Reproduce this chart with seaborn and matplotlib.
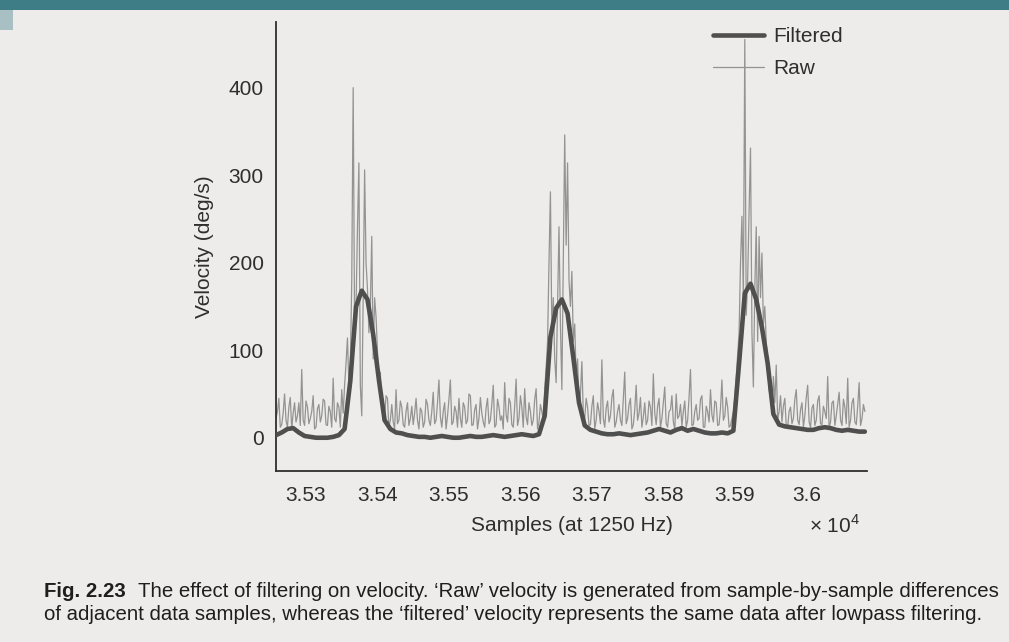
import numpy as np
import pandas as pd
import matplotlib
matplotlib.use("Agg")
import matplotlib.pyplot as plt
import seaborn as sns
from matplotlib.patches import Rectangle

# ---------------- data ----------------
raw_start = 35258          # first sample index
raw_step = 2               # samples between stored raw points
raw_velocity = [
    22, 30, 45, 12, 15, 28, 50, 20, 12, 35,
    46, 10, 28, 40, 18, 25, 40, 14, 78, 20,
    14, 42, 35, 16, 22, 30, 48, 10, 12, 33,
    38, 18, 25, 44, 42, 15, 14, 36, 30, 12,
    68, 22, 18, 40, 35, 12, 55, 28, 60, 85,
    114, 60, 80, 180, 400, 120, 150, 240, 314, 60,
    25, 160, 306, 200, 170, 120, 150, 230, 90, 160,
    138, 100, 60, 75, 40, 20, 25, 48, 45, 12,
    20, 38, 18, 10, 55, 16, 20, 42, 35, 15,
    12, 30, 40, 14, 22, 36, 15, 28, 45, 20,
    10, 34, 30, 12, 18, 44, 38, 20, 14, 30,
    52, 16, 20, 40, 66, 24, 12, 30, 40, 10,
    25, 44, 66, 15, 18, 36, 30, 12, 45, 22,
    12, 40, 35, 16, 20, 50, 48, 14, 15, 32,
    38, 10, 22, 46, 28, 18, 12, 34, 45, 16,
    20, 38, 60, 12, 15, 44, 35, 20, 25, 10,
    63, 26, 18, 45, 40, 15, 12, 36, 67, 14,
    22, 48, 35, 12, 56, 24, 15, 40, 30, 14,
    20, 44, 56, 10, 18, 38, 30, 20, 55, 80,
    110, 200, 281, 120, 160, 90, 63, 150, 241, 130,
    55, 200, 346, 220, 314, 180, 150, 190, 110, 130,
    70, 90, 35, 50, 87, 28, 22, 45, 35, 14,
    15, 36, 48, 10, 20, 40, 30, 16, 89, 22,
    12, 34, 42, 18, 25, 46, 55, 12, 18, 30,
    38, 20, 14, 44, 75, 16, 22, 38, 45, 10,
    15, 32, 60, 20, 28, 46, 12, 24, 40, 15,
    20, 42, 35, 14, 73, 28, 15, 36, 45, 12,
    22, 40, 58, 16, 12, 30, 32, 48, 18, 10,
    50, 22, 25, 38, 14, 30, 42, 12, 20, 46,
    78, 14, 15, 30, 38, 20, 22, 44, 48, 12,
    12, 36, 30, 18, 55, 26, 18, 42, 40, 14,
    15, 34, 66, 20, 25, 46, 35, 12, 14, 22,
    30, 45, 70, 95, 120, 200, 253, 160, 455, 140,
    180, 260, 331, 120, 58, 170, 241, 110, 230, 160,
    211, 130, 150, 110, 90, 55, 45, 30, 70, 40,
    83, 20, 30, 48, 18, 36, 45, 14, 12, 30,
    35, 16, 22, 44, 55, 20, 15, 32, 40, 12,
    25, 46, 60, 18, 12, 34, 38, 14, 20, 42,
    48, 16, 15, 36, 30, 22, 70, 12, 18, 40,
    42, 14, 25, 38, 52, 20, 14, 44, 35, 16,
    68, 12, 20, 40, 45, 18, 15, 36, 63, 14,
    22, 38, 30,
]

filt_start = 35258
filt_step = 8
filtered_velocity = [
    3, 6, 10, 11, 6, 2, 1, 0, 0, 0,
    1, 3, 10, 65, 150, 168, 158, 118, 66, 20,
    10, 6, 5, 3, 2, 1, 1, 0, 1, 2,
    1, 0, 0, 1, 2, 1, 1, 2, 3, 2,
    1, 2, 3, 4, 3, 2, 4, 25, 115, 148,
    158, 142, 92, 40, 14, 9, 7, 5, 4, 4,
    5, 4, 3, 4, 5, 6, 8, 10, 8, 6,
    9, 11, 8, 10, 8, 6, 5, 5, 6, 5,
    8, 85, 165, 176, 158, 126, 85, 27, 15, 13,
    12, 11, 10, 9, 9, 11, 12, 11, 9, 8,
    9, 8, 7, 7,
]

x_ticks = [35300, 35400, 35500, 35600, 35700, 35800, 35900, 36000]
x_tick_labels = ["3.53", "3.54", "3.55", "3.56", "3.57", "3.58", "3.59", "3.6"]
y_ticks = [0, 100, 200, 300, 400]
y_tick_labels = ["0", "100", "200", "300", "400"]
series_names = ["Filtered", "Raw"]
x_label = "Samples (at 1250 Hz)"
y_label = "Velocity (deg/s)"
x_multiplier = "\u00d7 10$^{\\mathregular{4}}$"
caption_bold = "Fig. 2.23"
caption_line1 = ("The effect of filtering on velocity. \u2018Raw\u2019 velocity is generated "
                 "from sample-by-sample differences")
caption_line2 = ("of adjacent data samples, whereas the \u2018filtered\u2019 velocity represents "
                 "the same data after lowpass filtering.")

raw_df = pd.DataFrame({
    "sample": raw_start + raw_step * np.arange(len(raw_velocity)),
    "velocity": raw_velocity,
    "series": series_names[1],
})
filt_df = pd.DataFrame({
    "sample": filt_start + filt_step * np.arange(len(filtered_velocity)),
    "velocity": filtered_velocity,
    "series": series_names[0],
})

# ---------------- style ----------------
sns.set_style("white")
plt.rcParams["font.family"] = ["Liberation Sans", "DejaVu Sans"]
plt.rcParams["mathtext.fontset"] = "custom"
plt.rcParams["mathtext.rm"] = "Liberation Sans"

W, H = 1009, 642
PAPER = "#edecea"
INK = "#2e2e2e"
RAW_C = "#939393"
FILT_C = "#4f4f4f"
FS = 15

fig = plt.figure(figsize=(W / 100, H / 100), dpi=100, facecolor=PAPER)
ax_left, ax_right, ax_top, ax_bottom = 276, 867, 22, 471
ax = fig.add_axes([ax_left / W, 1 - ax_bottom / H,
                   (ax_right - ax_left) / W, (ax_bottom - ax_top) / H])
ax.set_facecolor("none")

sns.lineplot(data=raw_df, x="sample", y="velocity", ax=ax, color=RAW_C,
             lw=0.9, estimator=None, sort=False, label=series_names[1], zorder=2)
sns.lineplot(data=filt_df, x="sample", y="velocity", ax=ax, color=FILT_C,
             lw=3.3, estimator=None, sort=False, label=series_names[0], zorder=3)

ax.set_xlim(35258, 36085)
ax.set_ylim(-38, 475)
ax.set_xticks(x_ticks)
ax.set_xticklabels(x_tick_labels)
ax.set_yticks(y_ticks)
ax.set_yticklabels(y_tick_labels)
ax.tick_params(axis="both", direction="in", length=5, width=1.0, color=INK,
               labelsize=FS, labelcolor=INK)
ax.tick_params(axis="x", pad=11)
ax.tick_params(axis="y", pad=9)
for side in ["top", "right"]:
    ax.spines[side].set_visible(False)
for side in ["left", "bottom"]:
    ax.spines[side].set_color(INK)
    ax.spines[side].set_linewidth(1.3)

ax.set_xlabel(x_label, fontsize=FS, color=INK, labelpad=8)
ax.set_ylabel(y_label, fontsize=FS, color=INK, labelpad=10)

handles, labels = ax.get_legend_handles_labels()
order = [labels.index(n) for n in series_names]
ax.legend([handles[i] for i in order], [labels[i] for i in order],
          loc="upper left", bbox_to_anchor=(713 / W, 1 - 27 / H),
          bbox_transform=fig.transFigure, frameon=False, fontsize=FS,
          handlelength=2.45, handletextpad=0.45, labelspacing=0.62,
          borderpad=0, borderaxespad=0, labelcolor=INK)

fig.text(809 / W, 1 - 514 / H, x_multiplier, fontsize=FS, color=INK,
         ha="left", va="top")

# caption
CAP_FS = 14.7
fig.canvas.draw()
renderer = fig.canvas.get_renderer()
tb = fig.text(44 / W, 1 - 597 / H, caption_bold, fontsize=CAP_FS,
              fontweight="bold", color="#1e1e1e", ha="left", va="baseline")
bb = tb.get_window_extent(renderer)
fig.text((bb.x1 + 12) / W, 1 - 597 / H, caption_line1, fontsize=CAP_FS,
         color="#1e1e1e", ha="left", va="baseline")
fig.text(44 / W, 1 - 620 / H, caption_line2, fontsize=CAP_FS,
         color="#1e1e1e", ha="left", va="baseline")

# slide header band
fig.patches.append(Rectangle((0, 1 - 10 / H), 1, 10 / H, transform=fig.transFigure,
                             facecolor="#3e7d86", edgecolor="none", zorder=20))
fig.patches.append(Rectangle((0, 1 - 30 / H), 13 / W, 20 / H, transform=fig.transFigure,
                             facecolor="#a8bfc3", edgecolor="none", zorder=20))

fig.savefig("out.png", dpi=100, facecolor=PAPER)
